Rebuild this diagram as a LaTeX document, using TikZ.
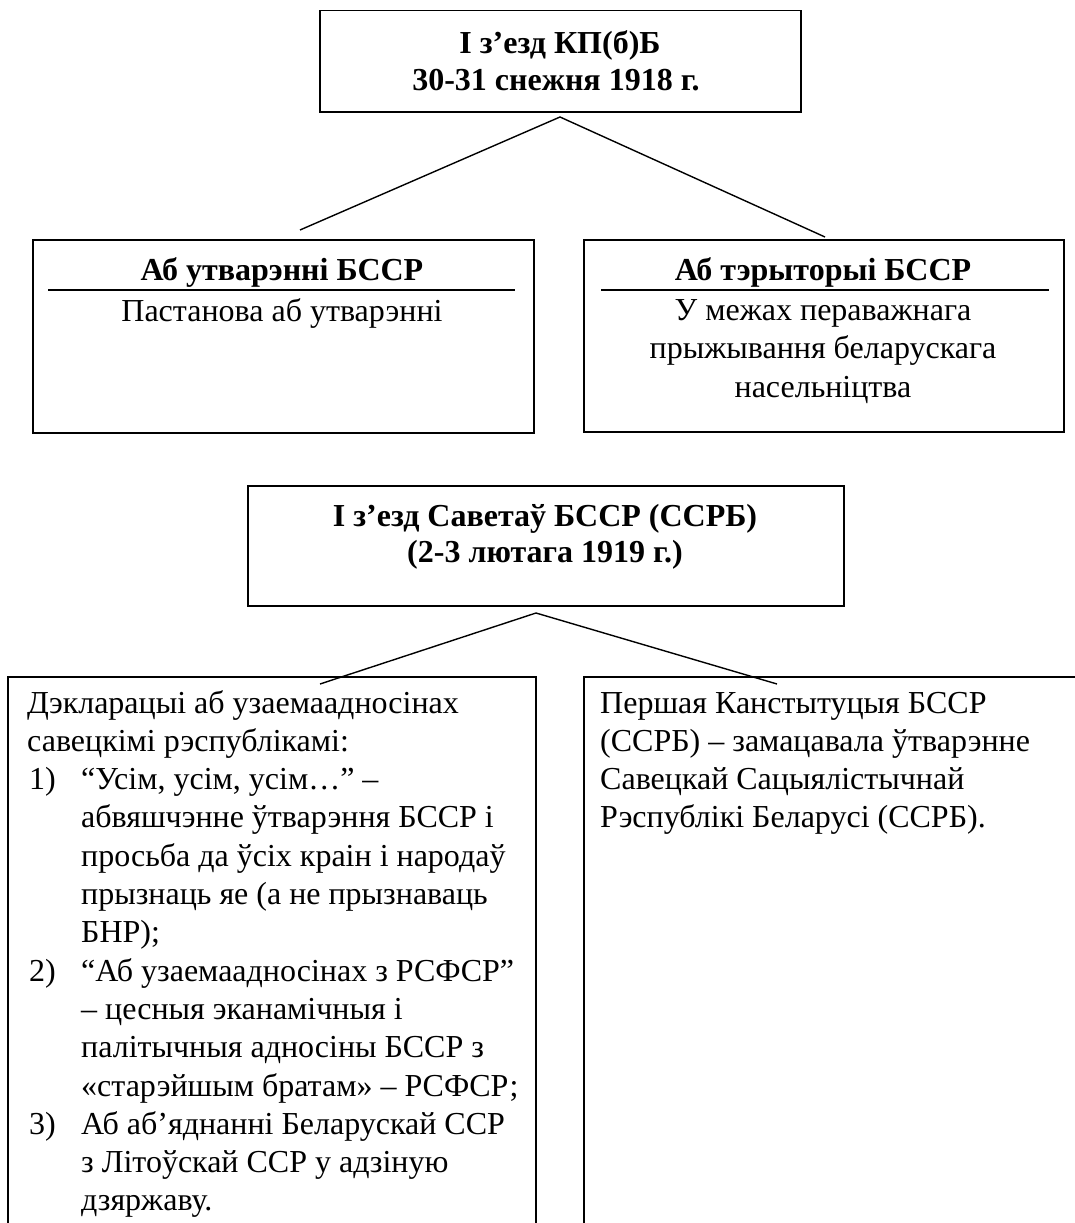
\documentclass[tikz,border=0pt]{standalone}
\usepackage{fontspec}
\setmainfont{Liberation Serif}
\begin{document}
\begin{tikzpicture}[x=1pt,y=-1pt,
  boxnode/.style={draw, line width=1.5pt, anchor=north west, inner sep=0pt},
  boxline/.style={line width=1.5pt},
  conn/.style={line width=1.4pt},
  head/.style={font=\bfseries\fontsize{32}{37.5}\selectfont, anchor=base, inner sep=0pt},
  body/.style={font=\fontsize{32}{37.5}\selectfont, anchor=base, inner sep=0pt},
  bodyl/.style={body, anchor=base west}]
\useasboundingbox (0,0) rectangle (1075,1223);

% boxes
\node[boxnode, minimum width=481, minimum height=101] (top) at (319,10) {};
\node[boxnode, minimum width=501, minimum height=193] (left1) at (32,239) {};
\node[boxnode, minimum width=480, minimum height=192] (right1) at (583,239) {};
\node[boxnode, minimum width=596, minimum height=120] (mid) at (247,485) {};
\draw[boxline] (8,1224) coordinate (blA) -- (8,677) coordinate (blB) -- (536,677) coordinate (blC) -- (536,1224) coordinate (blD);
\draw[boxline] (584,1224) coordinate (brA) -- (584,677) coordinate (brB) -- (1076,677) coordinate (brC);

% top box text
\node[head] (t1a) at (560,53) {І з’езд КП(б)Б};
\node[head] (t1b) at (556,90) {30-31 снежня 1918 г.};

% first row
\node[head] (l1h) at (282,280) {Аб утварэнні БССР};
\coordinate (l1u1) at (48,290); \coordinate (l1u2) at (515,290);
\draw[boxline] (l1u1) -- (l1u2);
\node[body] (l1b) at (282,321) {Пастанова аб утварэнні};

\node[head] (r1h) at (823,280) {Аб тэрыторыі БССР};
\coordinate (r1u1) at (601,290); \coordinate (r1u2) at (1049,290);
\draw[boxline] (r1u1) -- (r1u2);
\node[body] (r1a) at (823,320) {У межах пераважнага};
\node[body] (r1b) at (823,358.5) {прыжывання беларускага};
\node[body] (r1c) at (823,397) {насельніцтва};

% second title box
\node[head] (t2a) at (545,526) {І з’езд Саветаў БССР (ССРБ)};
\node[head] (t2b) at (545,562) {(2-3 лютага 1919 г.)};

% connectors
\coordinate (a1) at (560,117);
\coordinate (e1l) at (300,230);
\coordinate (e1r) at (825,237);
\draw[conn] (e1l) -- (a1) -- (e1r);
\coordinate (a2) at (536,613);
\coordinate (e2l) at (320,684);
\coordinate (e2r) at (777,684);
\draw[conn] (e2l) -- (a2) -- (e2r);

% bottom left text
\node[bodyl] (b0) at (27,713) {Дэкларацыі аб узаемаадносінах};
\node[bodyl] (b1) at (27,751.3) {савецкімі рэспублікамі:};
\node[bodyl] (n1) at (29,789.6) {1)};
\node[bodyl] (b2) at (81,789.6) {“Усім, усім, усім…” –};
\node[bodyl] (b3) at (81,827.9) {абвяшчэнне ўтварэння БССР і};
\node[bodyl] (b4) at (81,866.2) {просьба да ўсіх краін і народаў};
\node[bodyl] (b5) at (81,904.5) {прызнаць яе (а не прызнаваць};
\node[bodyl] (b6) at (81,942.8) {БНР);};
\node[bodyl] (n2) at (29,981.1) {2)};
\node[bodyl] (b7) at (81,981.1) {“Аб узаемаадносінах з РСФСР”};
\node[bodyl] (b8) at (81,1019.4) {– цесныя эканамічныя і};
\node[bodyl] (b9) at (81,1057.7) {палітычныя адносіны БССР з};
\node[bodyl] (b10) at (81,1096) {«старэйшым братам» – РСФСР;};
\node[bodyl] (n3) at (29,1134.3) {3)};
\node[bodyl] (b11) at (81,1134.3) {Аб аб’яднанні Беларускай ССР};
\node[bodyl] (b12) at (81,1172.6) {з Літоўскай ССР у адзіную};
\node[bodyl] (b13) at (81,1210.9) {дзяржаву.};

% bottom right text
\node[bodyl] (c0) at (600,713) {Першая Канстытуцыя БССР};
\node[bodyl] (c1) at (600,751.3) {(ССРБ) – замацавала ўтварэнне};
\node[bodyl] (c2) at (600,789.6) {Савецкай Сацыялістычнай};
\node[bodyl] (c3) at (600,827.9) {Рэспублікі Беларусі (ССРБ).};
\end{tikzpicture}
\end{document}
